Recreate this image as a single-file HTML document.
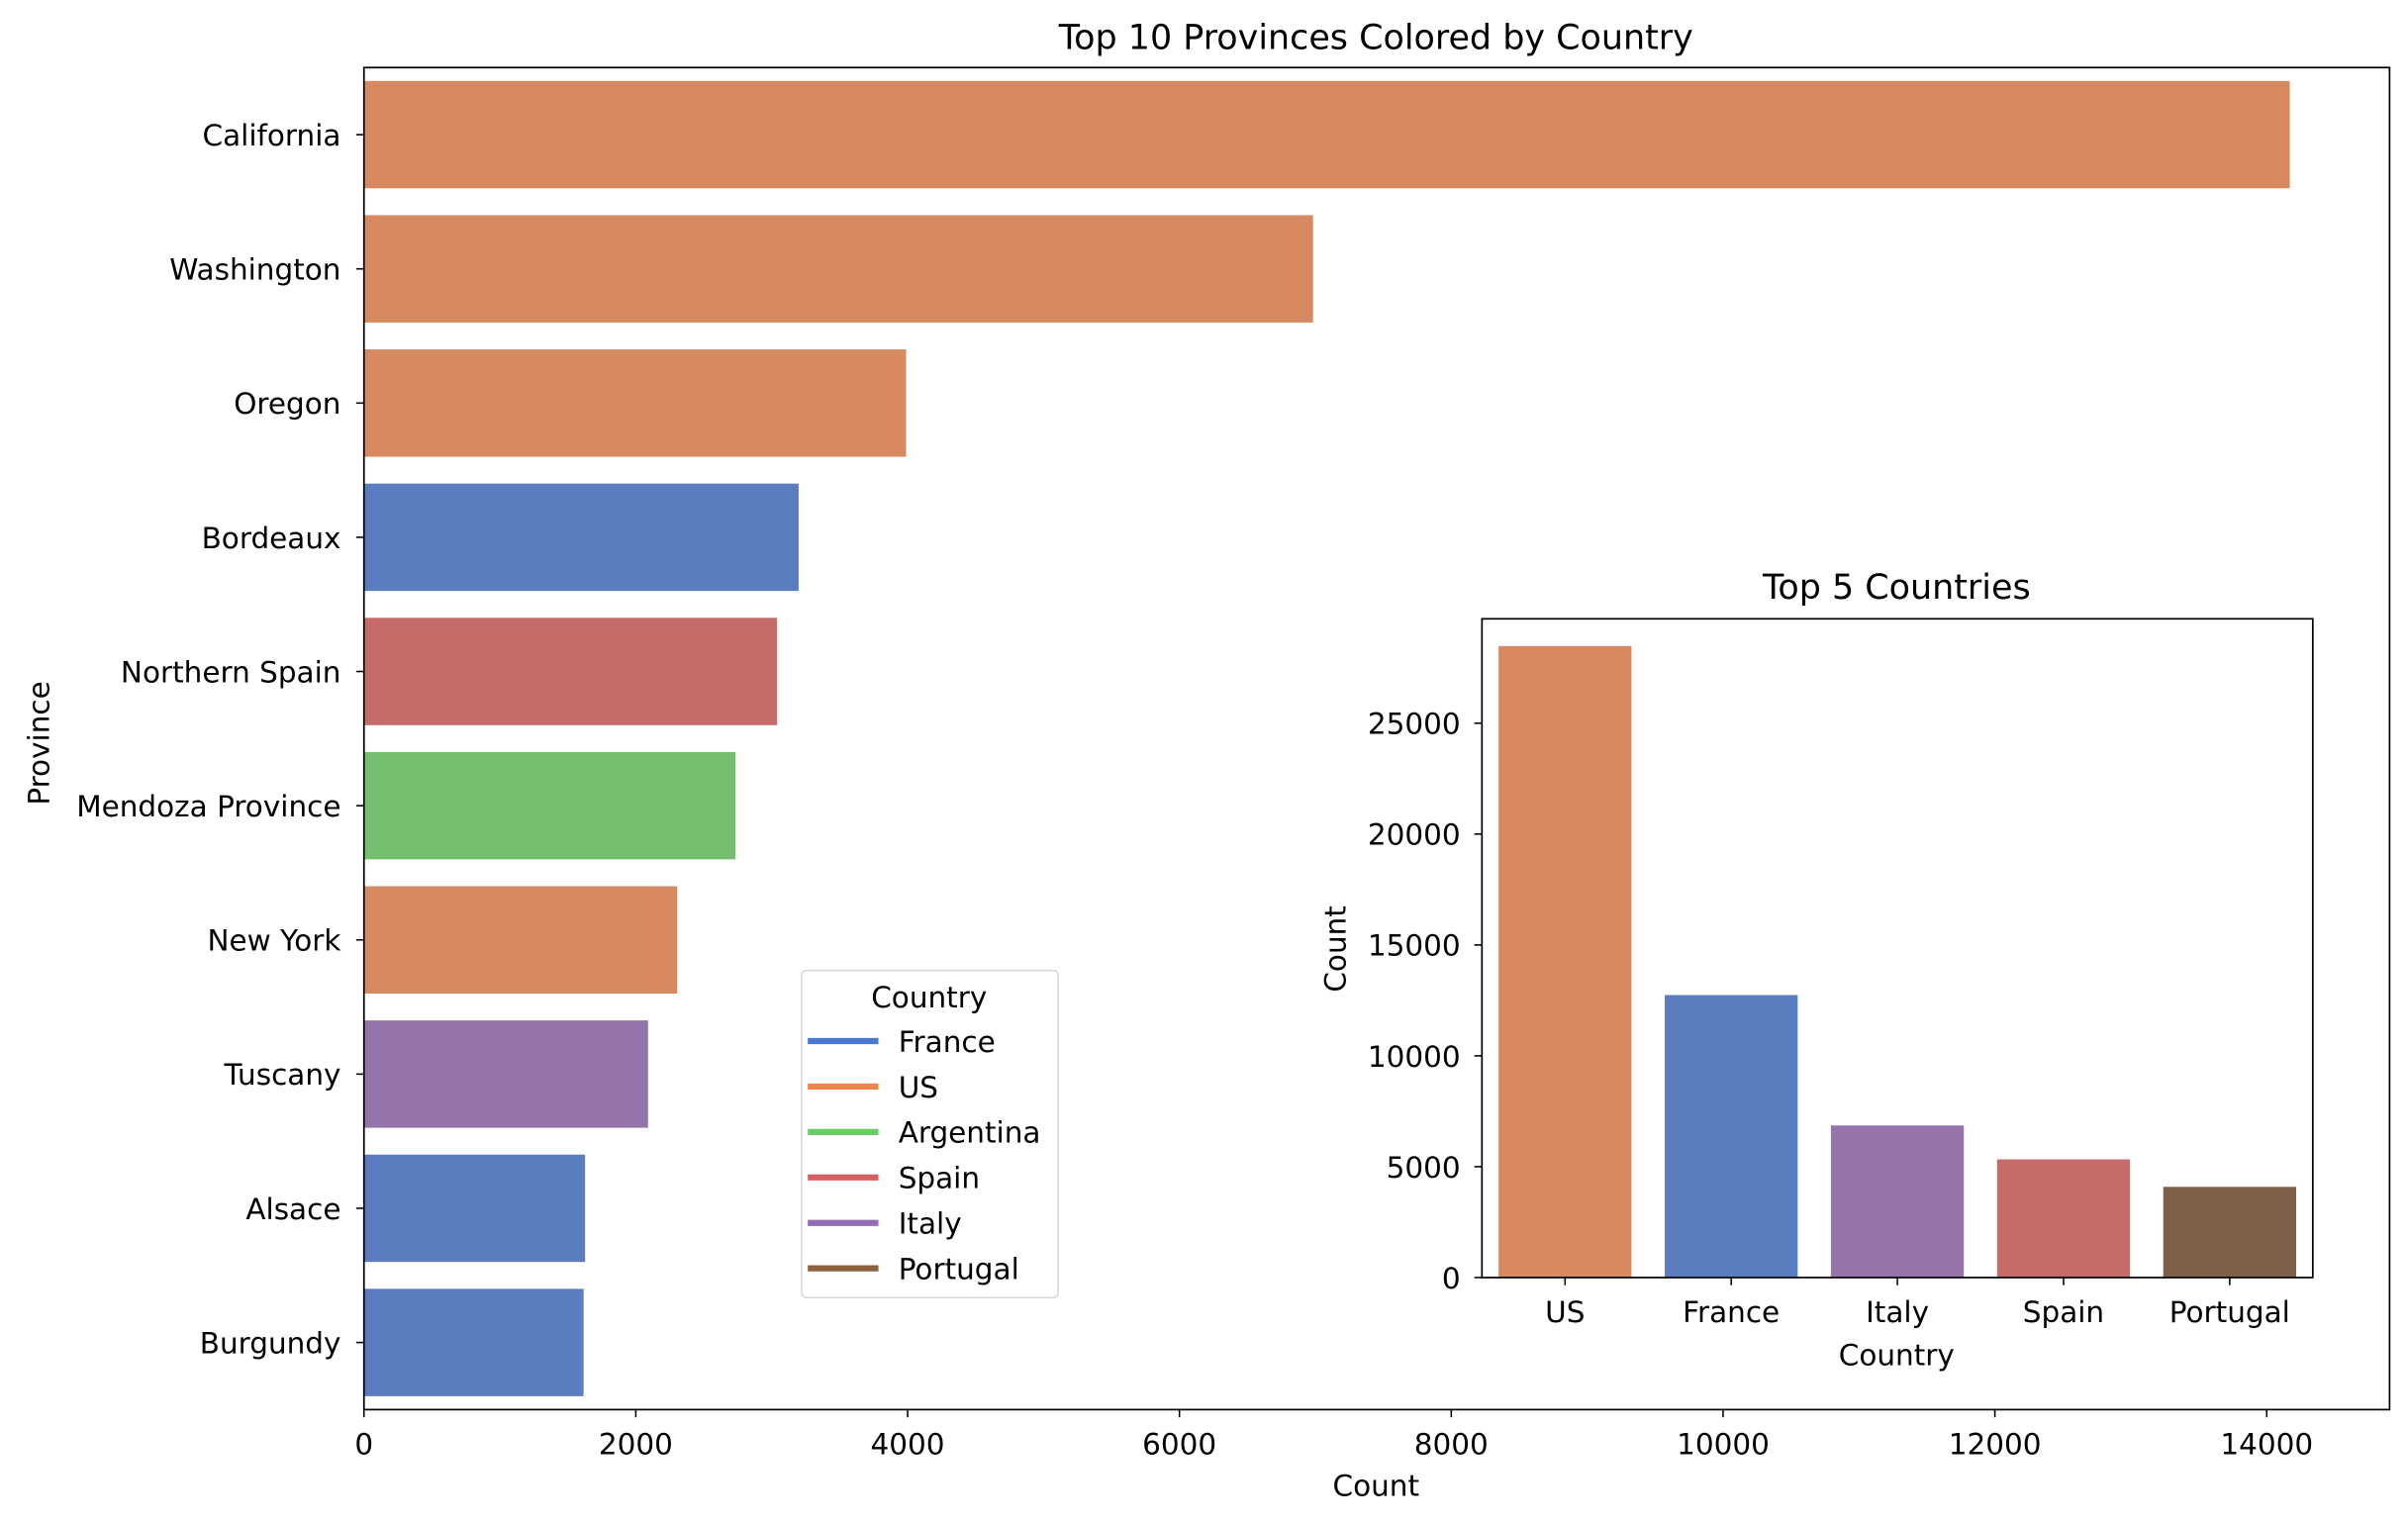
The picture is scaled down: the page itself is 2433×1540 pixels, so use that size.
<!DOCTYPE html>
<html><head><meta charset="utf-8"><style>
html,body{margin:0;padding:0;background:#fff}
svg{display:block}
text{font-family:"DejaVu Sans","Liberation Sans",sans-serif;fill:#000}
</style></head><body>
<svg id="svg" width="2433" height="1540" viewBox="0 0 1568 992.5" preserveAspectRatio="none" xmlns="http://www.w3.org/2000/svg"></svg>
<script>
const provinces = ["California","Washington","Oregon","Bordeaux","Northern Spain","Mendoza Province","New York","Tuscany","Alsace","Burgundy"];
const provinceCounts = [14170,6983,3989,3198,3040,2734,2305,2090,1627,1616];
const provinceCountry = ["US","US","US","France","Spain","Argentina","US","Italy","France","France"];
const xTicks = [0,2000,4000,6000,8000,10000,12000,14000];
const countries = ["US","France","Italy","Spain","Portugal"];
const countryCounts = [28480,12740,6860,5330,4090];
const yTicksInset = [0,5000,10000,15000,20000,25000];
const legendCountries = ["France","US","Argentina","Spain","Italy","Portugal"];

const barColor = {France:"#5a7dbf",US:"#d78a5f",Argentina:"#75be6f",Spain:"#c56c6b",Italy:"#9474aa",Portugal:"#7f6046"};
const lineColor = {France:"#4878d0",US:"#ee854a",Argentina:"#6acc64",Spain:"#d65f5f",Italy:"#956cb4",Portugal:"#8c613c"};
const FS=19, TFS=22.5;

const svg = document.getElementById('svg');
const NS = "http://www.w3.org/2000/svg";
function mk(tag, attrs, parent){const e=document.createElementNS(NS,tag);for(const k in attrs)e.setAttribute(k,attrs[k]);(parent||svg).appendChild(e);return e;}
function txt(s, attrs){const e=mk('text',attrs);e.textContent=s;return e;}

const L=237,R=1556,T=44,B=918,XMAX=(1556-237)/0.0885;
const xs=v=>L+v*(R-L)/XMAX;
const band=(B-T)/provinces.length;
const ys=i=>T+band*(i+0.5);
provinces.forEach((p,i)=>{
  const r=mk('rect',{x:L,y:ys(i)-band*0.4,width:xs(provinceCounts[i])-L,height:band*0.8,fill:barColor[provinceCountry[i]]});
  
  
  mk('line',{x1:L-5,x2:L,y1:ys(i),y2:ys(i),stroke:'#000','stroke-width':1});
  const t=txt(p,{x:L-15,y:ys(i)+7,'text-anchor':'end','font-size':FS,textLength:0});
  t.removeAttribute('textLength');
  
  
});
xTicks.forEach(v=>{
  mk('line',{x1:xs(v),x2:xs(v),y1:B,y2:B+5,stroke:'#000','stroke-width':1});
  const t=txt(String(v),{x:xs(v),y:B+29,'text-anchor':'middle','font-size':FS});
  
  
});
const frame=mk('rect',{x:L,y:T,width:R-L,height:B-T,fill:'none',stroke:'#000','stroke-width':1.1});


let t;
t=txt('Top 10 Provinces Colored by Country',{x:896,y:32,'text-anchor':'middle','font-size':TFS});

t=txt('Count',{x:896,y:974,'text-anchor':'middle','font-size':FS});

t=txt('Province',{x:0,y:0,'text-anchor':'middle','font-size':FS,transform:'translate(32,484) rotate(-90)'});


const lg=mk('g',{});


mk('rect',{x:522,y:632,width:167,height:213,rx:3,fill:'#fff',stroke:'#d6d6d6','stroke-width':1},lg);
t=txt('Country',{x:605,y:656,'text-anchor':'middle','font-size':FS});lg.appendChild(t);
legendCountries.forEach((c,i)=>{
  const y=678+i*29.6;
  const g=mk('g',{},lg);
  
  
  mk('line',{x1:526,x2:572,y1:y,y2:y,stroke:lineColor[c],'stroke-width':4},g);
  const tt=txt(c,{x:585,y:y+7,'font-size':FS});g.appendChild(tt);
});

const IL=965,IR=1506,IT=403,IB=832,IYMAX=(832-403)/0.01444;
const iy=v=>IB-v*(IB-IT)/IYMAX;
const ib=(IR-IL)/countries.length;
const ix=i=>IL+ib*(i+0.5);
mk('rect',{x:IL,y:IT,width:IR-IL,height:IB-IT,fill:'#fff'});
countries.forEach((c,i)=>{
  const r=mk('rect',{x:ix(i)-ib*0.4,y:iy(countryCounts[i]),width:ib*0.8,height:IB-iy(countryCounts[i]),fill:barColor[c]});
  
  
  mk('line',{x1:ix(i),x2:ix(i),y1:IB,y2:IB+5,stroke:'#000','stroke-width':1});
  const tt=txt(c,{x:ix(i),y:IB+29,'text-anchor':'middle','font-size':FS});
  
  
});
yTicksInset.forEach(v=>{
  mk('line',{x1:IL-5,x2:IL,y1:iy(v),y2:iy(v),stroke:'#000','stroke-width':1});
  const tt=txt(String(v),{x:IL-14,y:iy(v)+7,'text-anchor':'end','font-size':FS});
  
  
});
const iframe=mk('rect',{x:IL,y:IT,width:IR-IL,height:IB-IT,fill:'none',stroke:'#000','stroke-width':1.1});


t=txt('Top 5 Countries',{x:1235,y:390,'text-anchor':'middle','font-size':TFS});

t=txt('Country',{x:1235,y:889,'text-anchor':'middle','font-size':FS});

t=txt('Count',{x:0,y:0,'text-anchor':'middle','font-size':FS,transform:'translate(876,618) rotate(-90)'});

</script>
</body></html>
